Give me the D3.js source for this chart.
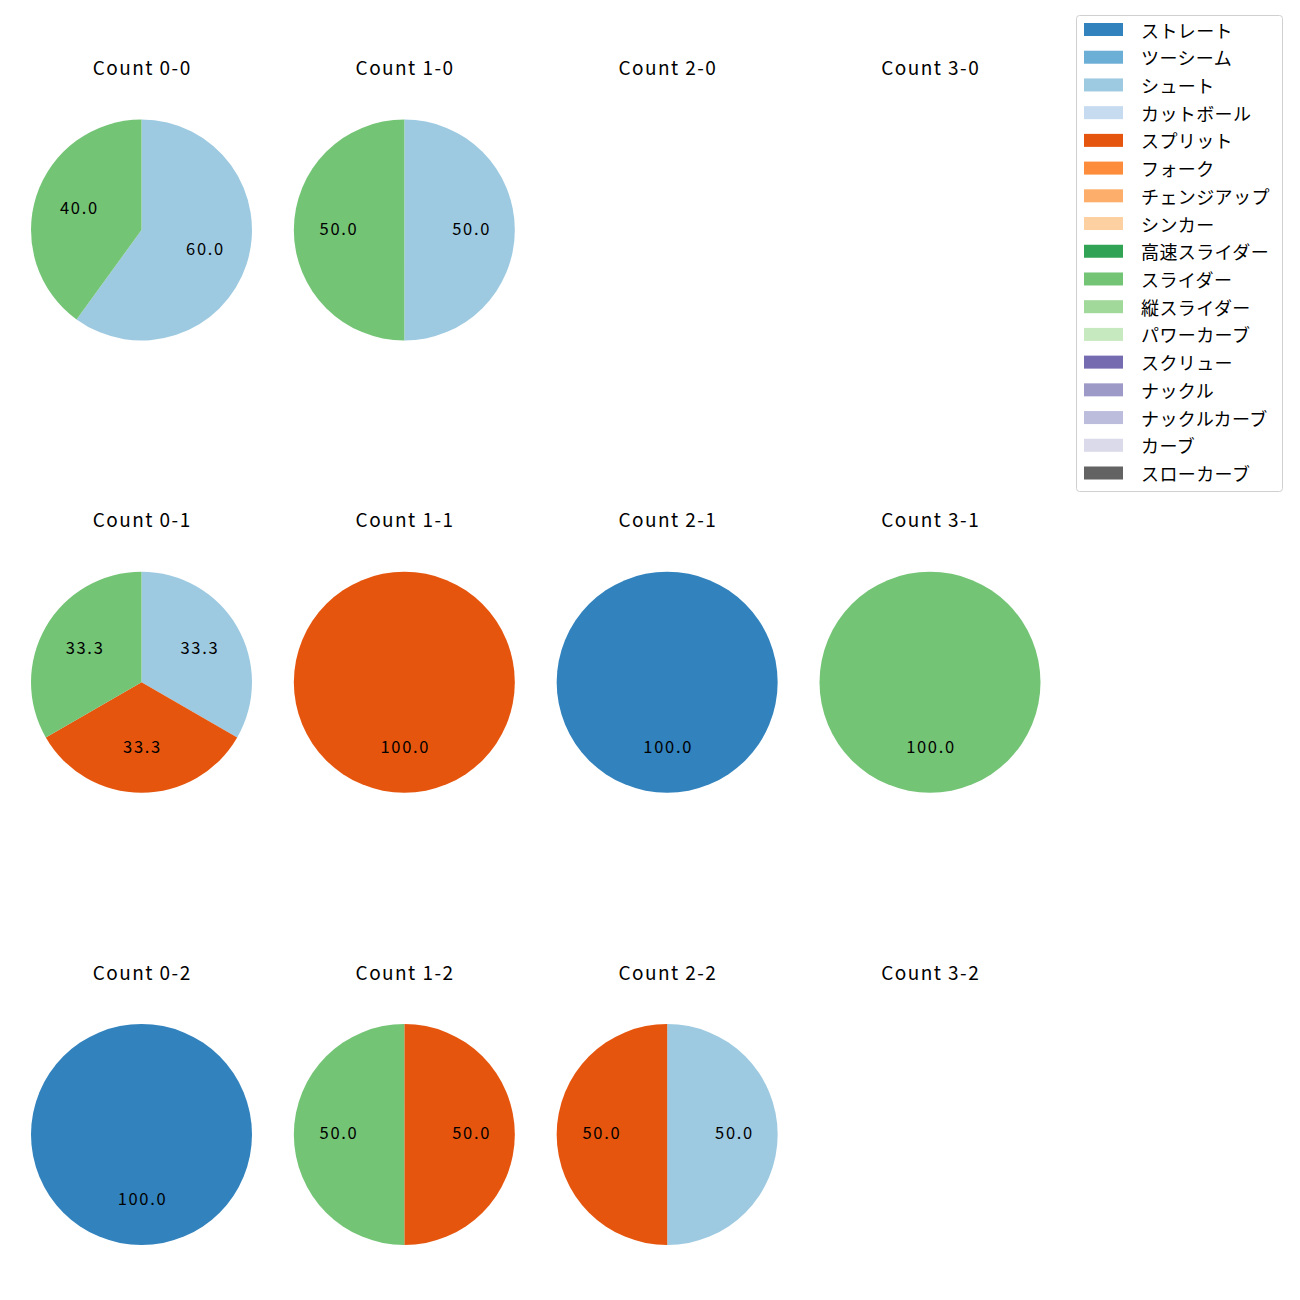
<!DOCTYPE html>
<html><head><meta charset="utf-8">
<script src="https://cdn.jsdelivr.net/npm/d3@7"></script>
<style>body{margin:0;background:#fff;} svg{display:block;}</style>
</head><body>
<svg id="chart" width="1300" height="1300"></svg>
<script>
const pitchTypes = ["ストレート","ツーシーム","シュート","カットボール","スプリット","フォーク","チェンジアップ","シンカー","高速スライダー","スライダー","縦スライダー","パワーカーブ","スクリュー","ナックル","ナックルカーブ","カーブ","スローカーブ"];
const pitchColors = ["#3182bd","#6baed6","#9ecae1","#c6dbef","#e6550d","#fd8d3c","#fdae6b","#fdd0a2","#31a354","#74c476","#a1d99b","#c7e9c0","#756bb1","#9e9ac8","#bcbddc","#dadaeb","#636363"];
const strikes = [0,1,2];
const balls = [0,1,2,3];
// pitch counts per count situation: [pitch type, number]
const count00 = [["シュート",3],["スライダー",2]];
const count10 = [["シュート",1],["スライダー",1]];
const count20 = [];
const count30 = [];
const count01 = [["シュート",1],["スプリット",1],["スライダー",1]];
const count11 = [["スプリット",1]];
const count21 = [["ストレート",1]];
const count31 = [["スライダー",1]];
const count02 = [["ストレート",1]];
const count12 = [["スプリット",1],["スライダー",1]];
const count22 = [["シュート",1],["スプリット",1]];
const count32 = [];
const countData = {
  "0-0":count00,"1-0":count10,"2-0":count20,"3-0":count30,
  "0-1":count01,"1-1":count11,"2-1":count21,"3-1":count31,
  "0-2":count02,"1-2":count12,"2-2":count22,"3-2":count32
};

const svg = d3.select("#chart");
const font = "'Noto Sans CJK JP', 'Noto Sans', sans-serif";
const color = d3.scaleOrdinal().domain(pitchTypes).range(pitchColors);
const xPos = d3.scalePoint().domain(balls).range([141.5, 930]);
const yPos = d3.scalePoint().domain(strikes).range([230, 1134.5]);
const R = 110.5;
const pie = d3.pie().sort(null).value(d => d[1]);
const arc = d3.arc().innerRadius(0).outerRadius(R);
const labelArc = d3.arc().innerRadius(R*0.6).outerRadius(R*0.6);

strikes.forEach(s => balls.forEach(b => {
  const key = b + "-" + s;
  const cx = xPos(b), cy = yPos(s);
  svg.append("text").attr("x", cx + 0.7).attr("y", cy - 155)
    .attr("text-anchor","middle")
    .style("font-family", font).style("font-size","19px").style("letter-spacing","1.45px").attr("fill","#000")
    .text("Count " + key);
  const data = countData[key];
  if (!data.length) return;
  const total = d3.sum(data, d => d[1]);
  const g = svg.append("g").attr("transform", `translate(${cx},${cy})`);
  const arcs = pie(data);
  g.selectAll("path").data(arcs).join("path")
    .attr("d", arc).attr("fill", d => color(d.data[0]));
  g.selectAll("text").data(arcs).join("text")
    .attr("transform", d => { const c = labelArc.centroid(d); return `translate(${c[0]+1},${c[1]+4.5})`; })
    .attr("text-anchor","middle")
    .style("font-family", font).style("font-size","16.5px").style("letter-spacing","1.7px").attr("fill","#000")
    .text(d => (d.data[1]/total*100).toFixed(1));
}));

// legend
const lg = svg.append("g");
lg.append("rect").attr("x",1076.5).attr("y",15.5).attr("width",206).attr("height",476)
  .attr("rx",3).attr("fill","#fff").attr("stroke","#d0d0d0");
const rowY = d3.scaleLinear().domain([0, pitchTypes.length-1]).range([29.5, 473]);
pitchTypes.forEach((p,i) => {
  lg.append("rect").attr("x",1084).attr("y",rowY(i)-6.5).attr("width",39).attr("height",13)
    .attr("fill", color(p));
  lg.append("text").attr("x",1141).attr("y",rowY(i)).attr("dominant-baseline","central")
    .style("font-family", font).style("font-size","18px").style("letter-spacing","0.4px").attr("fill","#000").text(p);
});
</script>
</body></html>
